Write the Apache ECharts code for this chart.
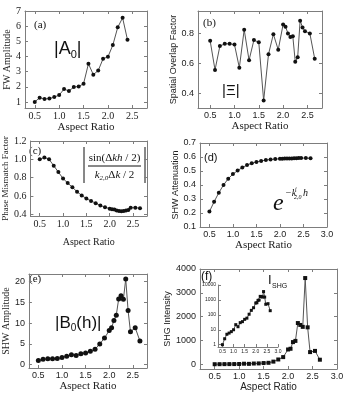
<!DOCTYPE html>
<html><head><meta charset="utf-8">
<script src="https://cdn.jsdelivr.net/npm/echarts@6/dist/echarts.min.js"></script>
<style>html,body{margin:0;padding:0;background:#fff}#c{width:355px;height:400px}</style>
</head><body><div id="c"></div>
<script>
// ---------- data ----------
const aspectA = [0.5,0.6,0.7,0.8,0.9,1.0,1.1,1.2,1.3,1.4,1.5,1.6,1.7,1.8,1.9,2.0,2.1,2.2,2.3,2.4];
const fwAmplitude = [1.0,1.28,1.2,1.22,1.32,1.45,1.85,1.72,1.98,2.02,2.2,3.52,2.8,3.07,3.85,3.98,4.75,5.92,6.55,5.1];
const aspect = [0.5,0.6,0.7,0.8,0.9,1.0,1.1,1.2,1.3,1.4,1.5,1.6,1.7,1.8,1.9,2.0,2.05,2.1,2.15,2.2,2.25,2.3,2.35,2.4,2.45,2.55,2.65];
const overlapFactor = [0.75,0.555,0.715,0.73,0.73,0.725,0.57,0.825,0.62,0.755,0.74,0.35,0.66,0.795,0.69,0.86,0.845,0.80,0.775,0.78,0.61,0.64,0.885,0.84,0.815,0.80,0.63];
const mismatchFactor = [1.0,1.02,1.0,0.93,0.86,0.79,0.74,0.695,0.645,0.605,0.57,0.545,0.52,0.495,0.475,0.46,0.455,0.45,0.44,0.435,0.432,0.435,0.44,0.445,0.47,0.47,0.465];
const shwAttenuation = [0.21,0.28,0.345,0.40,0.445,0.478,0.503,0.525,0.542,0.555,0.565,0.572,0.578,0.582,0.585,0.587,0.588,0.589,0.589,0.59,0.59,0.591,0.591,0.592,0.592,0.592,0.591];
const shwAmplitude = [1.0,1.3,1.4,1.45,1.5,1.7,2.0,2.4,2.2,2.6,2.8,3.2,3.7,5.0,6.4,8.2,8.9,10.6,11.9,15.8,16.6,15.7,20.6,13.0,7.9,8.9,5.7];
const shgIntensity = [1,2.5,5,6,7.5,10,22,16,30,35,50,60,110,200,300,620,650,930,980,1730,1650,1570,3620,1550,510,560,190];

// ---------- tick labels ----------
const ticksX25 = [0.5,1.0,1.5,2.0,2.5];
const ticksX30 = [0.5,1.0,1.5,2.0,2.5,3.0];
const ticksYa = [1,2,3,4,5,6,7];
const ticksYb = [0.4,0.6,0.8];
const ticksYc = [0.4,0.6,0.8,1.0,1.2];
const ticksYd = [0.1,0.2,0.3,0.4,0.5,0.6,0.7];
const ticksYe = [0,5,10,15,20];
const ticksYf = [0,1000,2000,3000,4000];
const ticksYinset = [1,10,100,1000,10000];

// ---------- styling ----------
const BORDER = '#7d7d7d';
const TXT = '#222';
const SERIF = '"Liberation Serif","DejaVu Serif",serif';
const SANS = '"Liberation Sans","DejaVu Sans",sans-serif';
const f1 = v => Number(v).toFixed(1);
const f0 = v => String(Math.round(v));

const grids = [], xAxes = [], yAxes = [], series = [];

function panel(c) {
  const gi = grids.length;
  grids.push({left:c.box[0], top:c.box[1], width:c.box[2], height:c.box[3], show:false});
  const ls = {color: BORDER, width: 1};
  const tick = vals => ({show:true, inside:true, length:3, customValues: vals, lineStyle: ls});
  const xi = xAxes.length, yi = yAxes.length;
  xAxes.push({gridIndex:gi, type:'value', position:'bottom', min:c.xr[0], max:c.xr[1],
    axisLine:{show:true,onZero:false,lineStyle:ls}, axisTick:tick(c.xt),
    axisLabel:{customValues:c.xt, formatter:f1, fontFamily:c.tickFont, fontSize:c.tickSize||9, color:TXT, margin:c.xMargin||3},
    splitLine:{show:false},
    name: c.xName||'', nameLocation:'middle', nameGap:c.xGap,
    nameTextStyle:{fontFamily:c.xNameFont, fontSize:c.xNameSize||11, color:TXT}});
  yAxes.push({gridIndex:gi, type:c.yType||'value', logBase:10, position:'left', min:c.yr[0], max:c.yr[1],
    axisLine:{show:true,onZero:false,lineStyle:ls}, axisTick:tick(c.yt),
    axisLabel:{customValues:c.yt, formatter:c.yf, fontFamily:c.tickFont, fontSize:c.tickSize||9, color:TXT, margin:c.yMargin||4},
    splitLine:{show:false},
    name: c.yName||'', nameLocation:'middle', nameGap:c.yGap,
    nameTextStyle:{fontFamily:c.yNameFont, fontSize:c.yNameSize||9, color:TXT}});
  if (c.frame !== false) {
    xAxes.push({gridIndex:gi, type:'value', position:'top', min:c.xr[0], max:c.xr[1],
      axisLine:{show:true,onZero:false,lineStyle:ls}, axisTick:tick(c.xt), axisLabel:{show:false}, splitLine:{show:false}});
    yAxes.push({gridIndex:gi, type:c.yType||'value', logBase:10, position:'right', min:c.yr[0], max:c.yr[1],
      axisLine:{show:true,onZero:false,lineStyle:ls}, axisTick:tick(c.yt), axisLabel:{show:false}, splitLine:{show:false}});
  }
  series.push({type:'line', xAxisIndex:xi, yAxisIndex:yi, silent:true, animation:false,
    data: c.xs.map((x,i)=>[x, c.ys[i]]),
    symbol: c.symbol||'circle', symbolSize: c.ss||4, showAllSymbol:true,
    itemStyle:{color:'#111'}, lineStyle:{color:'#555', width:1}});
}

// (a)
panel({box:[25,11,122,97], xr:[0.3,2.8], yr:[0.6,7], xt:ticksX25, yt:ticksYa, yf:f0,
  xs:aspectA, ys:fwAmplitude, tickFont:SERIF, tickSize:10,
  xName:'Aspect Ratio', xNameFont:SERIF, xGap:10, yName:'FW Amplitude', yNameFont:SERIF, yNameSize:10, yGap:12});
// (b)
panel({box:[198,11,124,97], xr:[0.25,2.8], yr:[0.3,0.95], xt:ticksX25, yt:ticksYb, yf:f1,
  xs:aspect, ys:overlapFactor, tickFont:SANS, tickSize:9,
  xName:'Aspect Ratio', xNameFont:SERIF, xGap:10, yName:'Spatial Overlap Factor', yNameFont:SANS, yNameSize:9, yGap:19});
// (c)
panel({box:[25,141,122,75], xr:[0.3,2.8], yr:[0.38,1.2], xt:ticksX25, yt:ticksYc, yf:f1,
  xs:aspect, ys:mismatchFactor, tickFont:SERIF, tickSize:10,
  xName:'Aspect Ratio', xNameFont:SERIF, xNameSize:10, xGap:21, yName:'Phase Mismatch Factor', yNameFont:SERIF, yNameSize:9, yGap:16});
// (d)
panel({box:[200,143,127,84], xr:[0.3,3.0], yr:[0.1,0.7], xt:ticksX30, yt:ticksYd, yf:f1,
  xs:aspect, ys:shwAttenuation, tickFont:SANS, tickSize:9,
  xName:'Aspect Ratio', xNameFont:SERIF, xGap:11, yName:'SHW Attenuation', yNameFont:SANS, yNameSize:9, yGap:16});
// (e)
panel({box:[25,274,122,94], xr:[0.3,2.8], yr:[-0.8,21.8], xt:ticksX25, yt:ticksYe, yf:f0,
  xs:aspect, ys:shwAmplitude, tickFont:SANS, tickSize:9, ss:5,
  xName:'Aspect Ratio', xNameFont:SERIF, xGap:11, yName:'SHW Amplitude', yNameFont:SERIF, yNameSize:10, yGap:12});
// (f)
panel({box:[200,269,137,100], xr:[0.2,3.0], yr:[-200,4000], xt:ticksX30, yt:ticksYf, yf:f0,
  xs:aspect, ys:shgIntensity, tickFont:SANS, tickSize:9, symbol:'rect', ss:4,
  xName:'Aspect Ratio', xNameFont:SANS, xNameSize:10, xGap:13, yName:'SHG Intensity', yNameFont:SANS, yNameSize:9, yGap:20});
// (f) inset, log scale
panel({box:[218,285,60,62], xr:[0.3,3.0], yr:[0.7,10000], yType:'log', xt:ticksX30, yt:ticksYinset, yf:f0,
  xs:aspect, ys:shgIntensity, tickFont:SANS, tickSize:5, symbol:'rect', ss:3, frame:false,
  xMargin:2, yMargin:2});

// ---------- annotations ----------
const g = [];
function txt(x, y, text, font, extra) {
  g.push({type:'text', x, y, silent:true, style:Object.assign({text, font, fill:'#111', align:'left', verticalAlign:'middle'}, extra||{})});
}
function ln(x1,y1,x2,y2) {
  g.push({type:'line', silent:true, shape:{x1,y1,x2,y2}, style:{stroke:'#111', lineWidth:1}});
}
txt(34, 25, '(a)', '11px '+SERIF);
g.push({type:'text', x:54, y:49, silent:true, style:{text:'{m||A}{s|0}{m||}', fill:'#111', verticalAlign:'middle',
  rich:{m:{fontSize:18, fontFamily:SANS, lineHeight:22, fill:'#111'}, s:{fontSize:11, fontFamily:SANS, lineHeight:9, verticalAlign:'bottom', fill:'#111'}}}});
txt(203, 23, '(b)', '11px '+SERIF);
txt(222, 91, '|Ξ|', '15px '+SANS);
txt(29, 151, '(c)', '11px '+SERIF);
// (c) formula
ln(84,147,84,183); ln(145,147,145,183); ln(88,166,141,166);
g.push({type:'text', x:114.5, y:158, silent:true, style:{text:'{n|sin(Δ}{i|kh}{n| / 2)}', align:'center', verticalAlign:'middle',
  rich:{n:{fontSize:11, fontFamily:SERIF, fill:'#111'}, i:{fontSize:11, fontFamily:SERIF, fontStyle:'italic', fill:'#111'}}}});
g.push({type:'text', x:114.5, y:175, silent:true, style:{text:'{i|k}{s|2,0}{n|Δ}{i|k}{n| / 2}', align:'center', verticalAlign:'middle',
  rich:{n:{fontSize:11, fontFamily:SERIF, lineHeight:14, fill:'#111'}, i:{fontSize:11, fontFamily:SERIF, fontStyle:'italic', lineHeight:14, fill:'#111'},
        s:{fontSize:7, fontFamily:SERIF, fontStyle:'italic', lineHeight:7, verticalAlign:'bottom', fill:'#111'}}}});
txt(204, 158, '(d)', '11px '+SANS);
// (d) formula
txt(273, 204, 'e', 'italic 24px '+SERIF);
txt(285, 193, '−k', 'italic 10px '+SERIF);
txt(295, 189, 'i', 'italic 6px '+SERIF);
txt(294, 197, '2,0', 'italic 6px '+SERIF);
txt(303, 193, 'h', 'italic 10px '+SERIF);
txt(29, 279, '(e)', '11px '+SERIF);
g.push({type:'text', x:55, y:323, silent:true, style:{text:'{m||B}{s|0}{m|(h)|}', fill:'#111', verticalAlign:'middle',
  rich:{m:{fontSize:17, fontFamily:SANS, lineHeight:21, fill:'#111'}, s:{fontSize:10, fontFamily:SANS, lineHeight:8, verticalAlign:'bottom', fill:'#111'}}}});
txt(201, 277, '(f)', '12px '+SANS);
txt(268, 280, 'I', '13px '+SANS);
txt(272, 286, 'SHG', '7px '+SANS);

const chart = echarts.init(document.getElementById('c'), null, {renderer:'canvas'});
chart.setOption({animation:false, backgroundColor:'#fff', grid:grids, xAxis:xAxes, yAxis:yAxes, series, graphic:g});
</script></body></html>
